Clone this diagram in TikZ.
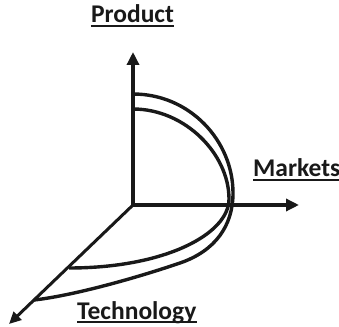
\documentclass[tikz,border=0pt]{standalone}
\usepackage{fontspec}
\setmainfont{Carlito}
\usetikzlibrary{arrows.meta}
\begin{document}
\begin{tikzpicture}[x=1pt,y=1pt,
  lbl/.style={inner sep=0pt, font=\fontsize{25.5}{28}\selectfont\bfseries, text=black!90},
  axis/.style={line width=4.2pt, black!90, -{Triangle[length=13pt,width=12pt]}},
  taxis/.style={line width=3pt, black!90, -{Triangle[length=12pt,width=11pt]}},
  curve/.style={line width=3.4pt, black!90},
  ul/.style={line width=2.2pt, black!90}]
\useasboundingbox (0,0) rectangle (339,326);
\coordinate (O) at (133,121);
\coordinate (P) at (133,274);
\coordinate (M) at (299,121);
\coordinate (T) at (9,2);
% curves
\draw[curve] (133,232) .. controls (190,232) and (233,185) .. (233,133)
  .. controls (233,100) and (215,75) .. (180,63)
  .. controls (130,46) and (70,30) .. (34,26);
\draw[curve] (133,217) .. controls (185,217) and (229,172) .. (229,127)
  .. controls (229,92) and (165,58) .. (69,58);
% axes
\draw[axis] (O) -- (P);
\draw[axis] (O) -- (M);
\draw[taxis] (O) -- (T);
\fill[black!90] (130.9,118.9) rectangle (135.1,123.1);
% labels
\node[lbl, anchor=base] (prod) at (132.5,303) {Product};
\node[lbl, anchor=base west] (mark) at (253,149) {Markets};
\node[lbl, anchor=base west] (tech) at (77,7) {Technology};
\draw[ul] ([yshift=-3pt]prod.base west) -- ([yshift=-3pt]prod.base east);
\draw[ul] ([yshift=-3pt]mark.base west) -- ([yshift=-3pt]mark.base east);
\draw[ul] ([yshift=-3pt]tech.base west) -- ([yshift=-3pt]tech.base east);
\end{tikzpicture}
\end{document}
